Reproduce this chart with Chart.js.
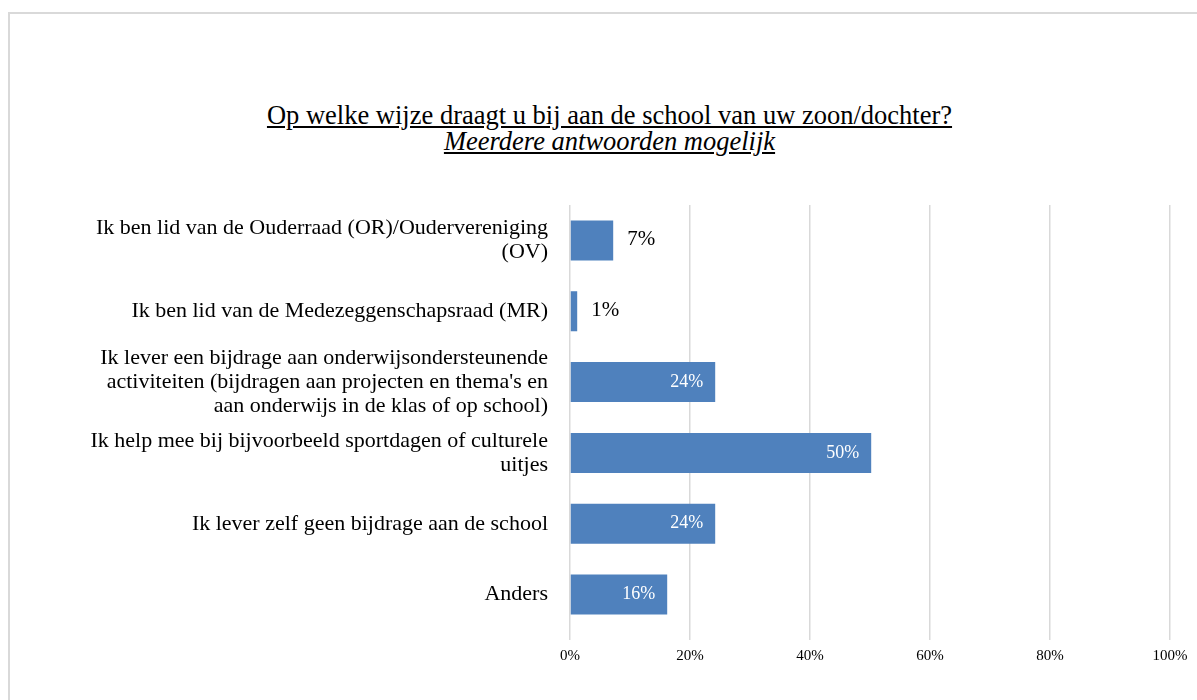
<!DOCTYPE html>
<html>
<head>
<meta charset="utf-8">
<script src="https://cdn.jsdelivr.net/npm/chart.js@4/dist/chart.umd.min.js"></script>
<style>
  html, body { margin: 0; padding: 0; background: #fff; overflow: hidden; }
  #wrap { position: relative; width: 1197px; height: 700px; }
  #frame { position: absolute; left: 8px; top: 12px; width: 1220px; height: 720px; border: 2px solid #d9d9d9; box-sizing: border-box; }
  #title { position: absolute; left: 8px; width: 1203px; top: 102px; text-align: center; font-family: "Liberation Serif", serif; font-size: 26.5px; line-height: 26px; color: #000; }
  #title span { text-decoration: underline; }
  canvas { position: absolute; left: 0; top: 0; }
</style>
</head>
<body>
<div id="wrap">
  <div id="frame"></div>
  <div id="title"><span>Op welke wijze draagt u bij aan de school van uw zoon/dochter?</span><br><span><i>Meerdere antwoorden mogelijk</i></span></div>
  <canvas id="chart" width="1197" height="700"></canvas>
</div>
<script>
const categories = [
  ["Ik ben lid van de Ouderraad (OR)/Oudervereniging", "(OV)"],
  "Ik ben lid van de Medezeggenschapsraad (MR)",
  ["Ik lever een bijdrage aan onderwijsondersteunende", "activiteiten (bijdragen aan projecten en thema's en", "aan onderwijs in de klas of op school)"],
  ["Ik help mee bij bijvoorbeeld sportdagen of culturele", "uitjes"],
  "Ik lever zelf geen bijdrage aan de school",
  "Anders"
];
const percentages = [7.2, 1.2, 24.2, 50.2, 24.2, 16.2];
const tickValues = [0, 20, 40, 60, 80, 100];

const barColor = "#4f81bd";
const serif = "'Liberation Serif', 'Times New Roman', serif";

// simple value labels: small bars get the label outside, others inside
const valueLabels = {
  id: "valueLabels",
  afterDatasetsDraw(chart) {
    const ctx = chart.ctx;
    const meta = chart.getDatasetMeta(0);
    ctx.save();
    ctx.textBaseline = "middle";
    meta.data.forEach((bar, i) => {
      const v = percentages[i];
      const txt = Math.round(v) + "%";
      if (v < 10) {
        ctx.font = "21px " + serif;
        ctx.fillStyle = "#000";
        ctx.textAlign = "left";
        ctx.fillText(txt, bar.x + 14, bar.y - 1);
      } else {
        ctx.font = "18px " + serif;
        ctx.fillStyle = "#fff";
        ctx.textAlign = "right";
        ctx.fillText(txt, bar.x - 12, bar.y);
      }
    });
    ctx.restore();
  }
};

new Chart(document.getElementById("chart"), {
  type: "bar",
  data: {
    labels: categories,
    datasets: [{
      data: percentages,
      backgroundColor: barColor,
      borderWidth: 0,
      categoryPercentage: 1,
      barPercentage: 0.565
    }]
  },
  options: {
    indexAxis: "y",
    responsive: false,
    animation: false,
    layout: { padding: { left: 0, right: 27, top: 205, bottom: 30 } },
    plugins: {
      legend: { display: false },
      tooltip: { enabled: false }
    },
    scales: {
      x: {
        min: 0,
        max: 100,
        afterBuildTicks: (scale) => { scale.ticks = tickValues.map(v => ({ value: v })); },
        afterFit: (scale) => { scale.height = 40; },
        grid: { color: "#d9d9d9", lineWidth: 1.5, tickLength: 10 },
        border: { display: false },
        ticks: {
          color: "#000",
          padding: 7,
          font: { family: serif, size: 15 },
          callback: (v) => v + "%"
        }
      },
      y: {
        afterFit: (scale) => { scale.width = 570; },
        grid: { display: false },
        border: { display: false },
        ticks: {
          color: "#000",
          padding: 14,
          autoSkip: false,
          font: { family: serif, size: 22, lineHeight: 1.08 }
        }
      }
    }
  },
  plugins: [valueLabels]
});
</script>
</body>
</html>
